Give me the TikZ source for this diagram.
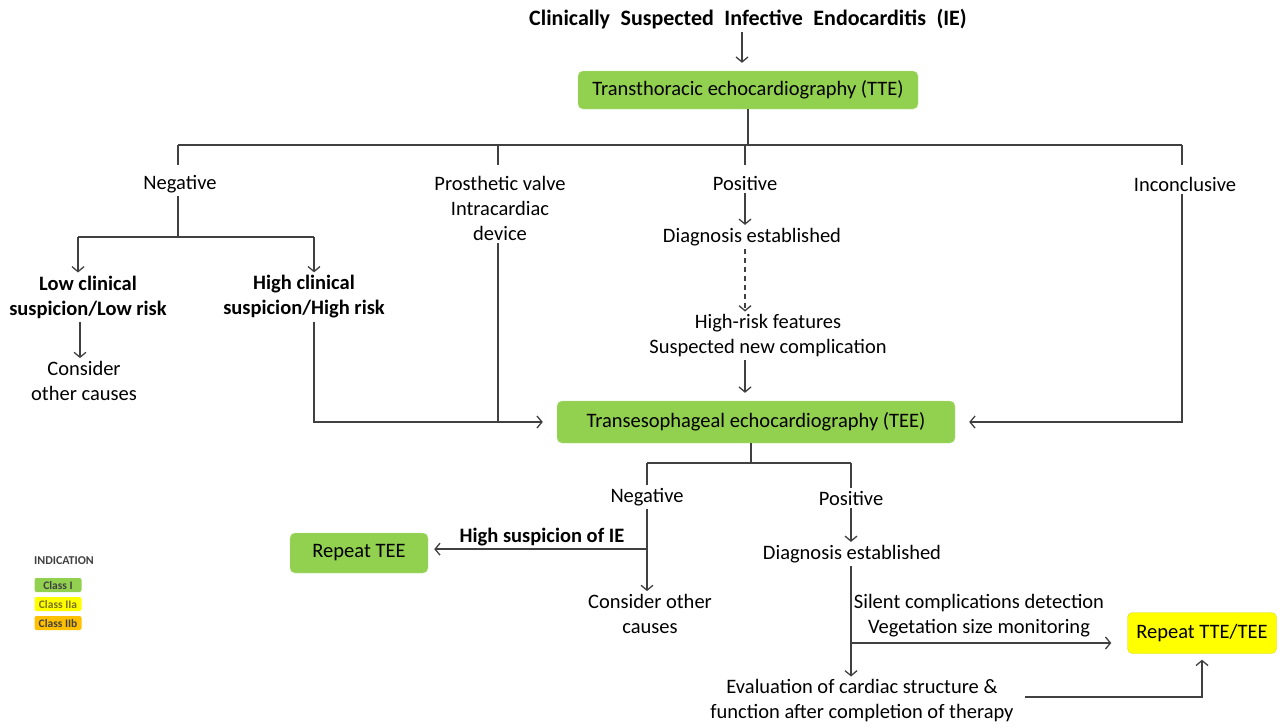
\documentclass[tikz,border=0pt]{standalone}
\usepackage{fontspec}
\setmainfont{Carlito}
\usetikzlibrary{arrows.meta}
\usetikzlibrary{calc}

\definecolor{linegray}{HTML}{404040}
\definecolor{classone}{HTML}{92D050}
\definecolor{classtwoa}{HTML}{FFFF00}
\definecolor{classtwob}{HTML}{FFC000}

\newcommand{\wgap}{\hspace{10.5pt}}

\begin{document}
\begin{tikzpicture}[x=1pt,y=-1pt,
    line/.style={draw=linegray, line width=1.3pt},
    arr/.style={line, -{Straight Barb[length=5pt,width=12pt]}},
    boxarr/.style={arr, shorten >=10pt},
    lbl/.style={align=center, inner sep=3pt, text=black, font=\fontsize{20.5}{25}\selectfont},
    blbl/.style={lbl, font=\fontsize{20.5}{25}\selectfont\bfseries},
    greenbox/.style={lbl, fill=classone, draw=classone!60!white, rounded corners=5pt,
        minimum height=38pt},
    yellowbox/.style={greenbox, fill=classtwoa, draw=classtwoa!70!gray},
    keybox/.style={fill=#1, rounded corners=2pt, minimum width=47pt, minimum height=14pt,
        inner sep=0pt, font=\fontsize{11.5}{12}\selectfont\bfseries},
  ]
    \useasboundingbox (0,0) rectangle (1285,728);

    % top part
    \node[blbl, font=\fontsize{22}{25}\selectfont\bfseries] (title) at (748,19)
        {Clinically\wgap Suspected\wgap Infective\wgap Endocarditis\wgap (IE)};
    \node[greenbox, minimum width=340pt] (tte) at (748,90) {Transthoracic echocardiography (TTE)};
    \draw[boxarr, shorten >=8pt] (title.south -| 742,0) -- (tte.north -| 742,0);

    \node[lbl] (neg1) at (180,184) {Negative};
    \node[lbl] (valve) at (500,208) {Prosthetic valve\\Intracardiac\\device};
    \node[lbl] (pos1) at (745,183) {Positive};
    \node[lbl] (incon) at (1185,184) {Inconclusive};

    \coordinate (split1) at (748,145);
    \draw[line] (tte.south) -- (split1);
    \draw[line] (178,0 |- split1) -- (1182,0 |- split1);
    \foreach \x in {178,498,745,1182}
        \draw[line] (\x,0 |- split1) -- ++(0,20);

    % negative TTE
    \coordinate (split2l) at (78,237);
    \coordinate (split2r) at (314,237);
    \node[blbl] (lowrisk) at (88,297) {Low clinical\\suspicion/Low risk};
    \node[blbl] (highrisk) at (304,297) {High clinical\\suspicion/High risk};
    \node[lbl] (cons1) at (84,381) {Consider\\other causes};
    \draw[line] (neg1.south -| 178,0) -- (178,0 |- split2l);
    \draw[line] (split2l) -- (split2r);
    \draw[arr] (split2l) -- (split2l |- lowrisk.north);
    \draw[arr] (split2r) -- (split2r |- highrisk.north);
    \draw[arr] (lowrisk.south -| 80,0) -- (cons1.north -| 80,0);

    % positive TTE
    \node[lbl] (diag1) at (752,237) {Diagnosis established};
    \node[lbl] (risk) at (768,336) {High-risk features\\Suspected new complication};
    \draw[arr] (pos1.south) -- (pos1.south |- diag1.north);
    \draw[arr, dash pattern=on 5pt off 4pt] (diag1.south -| pos1) -- (pos1 |- risk.north);

    % TEE
    \node[greenbox, minimum height=42pt, minimum width=398pt] (tee) at (756,422) {Transesophageal echocardiography (TEE)};
    \draw[boxarr, shorten >=8pt] (risk.south -| pos1) -- (pos1 |- tee.north);
    \draw[boxarr, shorten >=14pt] (highrisk.south -| split2r) |- (tee.west);
    \draw[line] (valve.south -| 498,0) -- (498,0 |- tee.west);
    \draw[boxarr, shorten >=14pt] (incon.south -| 1182,0) |- (tee.east);

    \node[lbl] (neg2) at (647,497) {Negative};
    \node[lbl] (pos2) at (851,498) {Positive};
    \coordinate (split3) at (751,463);
    \draw[line] (tee.south -| split3) -- (split3);
    \draw[line] (neg2.north |- split3) -- (pos2.north |- split3);
    \draw[line] (neg2.north |- split3) -- (neg2.north);
    \draw[line] (pos2.north |- split3) -- (pos2.north);

    % negative TEE
    \node[greenbox, minimum height=40pt, minimum width=138pt] (rtee) at (359,553) {Repeat TEE};
    \node[blbl] (hsusp) at (542,537) {High suspicion of IE};
    \node[lbl] (cons2) at (650,614) {Consider other\\causes};
    \draw[arr] (neg2.south) -- (neg2.south |- cons2.north);
    \draw[boxarr, shorten >=6pt] (neg2.south |- hsusp.south) -- (rtee.east |- hsusp.south);

    % positive TEE
    \node[lbl] (diag2) at (852,554) {Diagnosis established};
    \node[lbl] (monit) at (979,616) {Silent complications detection\\Vegetation size monitoring};
    \node[yellowbox, minimum height=41pt, minimum width=149pt] (rtt) at (1202,633) {Repeat TTE/TEE};
    \node[lbl] (evalu) at (862,701) {Evaluation of cardiac structure \&\\function after completion of therapy};
    \draw[arr] (pos2.south) -- (pos2.south |- diag2.north);
    \draw[arr] (diag2.south -| pos2) -- (pos2 |- evalu.north);
    \coordinate (branch) at (pos2 |- 0,643);
    \draw[boxarr, shorten >=16pt] (branch) -- (branch -| rtt.west);
    \draw[boxarr, shorten >=6pt, shorten <=8pt] (evalu.east |- 0,697) -| (rtt.south);

    % legend
    \node[font=\fontsize{12}{13}\selectfont\bfseries, text=linegray, inner sep=0pt] (ind) at (64,561) {INDICATION};
    \node[keybox=classone, text=linegray] (k1) at (58,585) {Class I};
    \node[keybox=classtwoa, text=olive!80!black] (k2) at (58,604) {Class IIa};
    \node[keybox=classtwob, text=linegray] (k3) at (58,623) {Class IIb};
\end{tikzpicture}
\end{document}
